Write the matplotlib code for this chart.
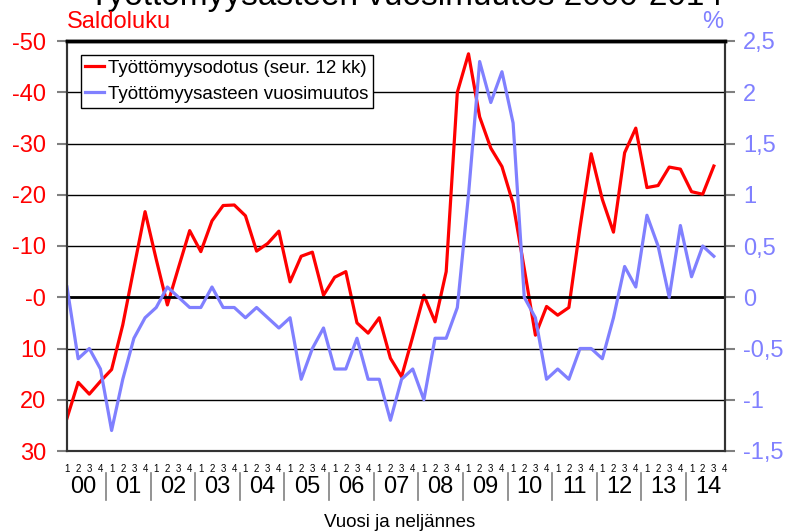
import matplotlib
matplotlib.use("Agg")
import matplotlib.pyplot as plt

plt.rcParams['font.family'] = ['Liberation Sans', 'DejaVu Sans']

# quarterly data 2000Q1 .. 2014Q3
years = ['00', '01', '02', '03', '04', '05', '06', '07', '08', '09',
         '10', '11', '12', '13', '14']
quarter_labels = ['1', '2', '3', '4']

# unemployment expectation, balance figure (left axis, inverted)
expectation = [23.6, 16.6, 18.9, 16.4, 14.1, 5.4, -5.7, -16.7, -7.4, 1.5,
               -5.8, -13.0, -8.9, -14.9, -17.9, -18.0, -15.9, -9.0, -10.5, -12.9,
               -3.0, -8.0, -8.8, -0.4, -3.9, -5.0, 5.0, 7.0, 4.0, 11.9,
               15.5, 7.7, -0.4, 4.8, -5.0, -40.0, -47.5, -35.2, -29.1, -25.5,
               -18.3, -5.6, 7.4, 1.8, 3.5, 2.0, -13.6, -28.0, -19.1, -12.7,
               -28.2, -33.0, -21.4, -21.8, -25.4, -25.0, -20.6, -20.1, -25.6]

# annual change of unemployment rate, % points (right axis)
rate_change = [0.1, -0.6, -0.5, -0.7, -1.3, -0.8, -0.4, -0.2, -0.1, 0.1,
               0.0, -0.1, -0.1, 0.1, -0.1, -0.1, -0.2, -0.1, -0.2, -0.3,
               -0.2, -0.8, -0.5, -0.3, -0.7, -0.7, -0.4, -0.8, -0.8, -1.2,
               -0.8, -0.7, -1.0, -0.4, -0.4, -0.1, 1.0, 2.3, 1.9, 2.2,
               1.7, 0.0, -0.2, -0.8, -0.7, -0.8, -0.5, -0.5, -0.6, -0.2,
               0.3, 0.1, 0.8, 0.5, 0.0, 0.7, 0.2, 0.5, 0.4]

left_ticks = [-50, -40, -30, -20, -10, 0, 10, 20, 30]
left_labels = ['-50', '-40', '-30', '-20', '-10', '-0', '10', '20', '30']
right_ticks = [2.5, 2, 1.5, 1, 0.5, 0, -0.5, -1, -1.5]
right_labels = ['2,5', '2', '1,5', '1', '0,5', '0', '-0,5', '-1', '-1,5']

RED = '#FF0000'
BLUE = '#8080FF'

fig = plt.figure(figsize=(7.86, 5.31), dpi=100)
ax = fig.add_axes([67 / 786, 1 - 451 / 531, 658 / 786, 410 / 531])
ax2 = ax.twinx()

n_q = len(years) * 4
x = list(range(len(expectation)))

l1, = ax.plot(x, expectation, color=RED, lw=2.3, label='Työttömyysodotus (seur. 12 kk)')
l2, = ax2.plot(x, rate_change, color=BLUE, lw=2.3, label='Työttömyysasteen vuosimuutos')

ax.set_xlim(0, n_q - 1)
ax.set_ylim(30, -50)
ax2.set_ylim(-1.5, 2.5)

ax.set_yticks(left_ticks)
ax.set_yticklabels(left_labels, color=RED, fontsize=17)
ax2.set_yticks(right_ticks)
ax2.set_yticklabels(right_labels, color=BLUE, fontsize=17)

ax.tick_params(axis='y', length=7, width=1.5, color='#808080', pad=8)
ax2.tick_params(axis='y', length=7, width=1.5, color='#808080', pad=6)

ax.set_xticks(range(n_q))
ax.set_xticklabels(quarter_labels * len(years), fontsize=7)
ax.tick_params(axis='x', length=0, pad=9)

ax.grid(axis='y', color='black', lw=1)
ax.axhline(0, color='black', lw=2)
ax.set_axisbelow(True)

for sp in ['left', 'right', 'bottom']:
    ax.spines[sp].set_color('#333333')
    ax.spines[sp].set_linewidth(1.5)
    ax2.spines[sp].set_color('#333333')
    ax2.spines[sp].set_linewidth(1.5)
ax.spines['top'].set_linewidth(2.5)
ax2.spines['top'].set_linewidth(2.5)

# year labels and separators under the quarters
xt = ax.get_xaxis_transform()
for k, yr in enumerate(years):
    ax.text(4 * k + 1.5, -0.0866, yr, transform=xt, ha='center', va='center', fontsize=17)
    if k < len(years) - 1:
        ax.plot([4 * k + 3.5, 4 * k + 3.5], [-0.0537, -0.1195], transform=xt,
                color='#808080', lw=1.2, clip_on=False)

ax2.legend(handles=[l1, l2], loc='upper left', bbox_to_anchor=(0.0208, 0.9666),
           borderaxespad=0, fontsize=13.5, frameon=True, fancybox=False,
           edgecolor='black', framealpha=1, handlelength=1.0, handletextpad=0.2,
           borderpad=0.25, labelspacing=0.5)
ax2.get_legend().get_frame().set_linewidth(1)

fig.text(406 / 786, 1 - 4.5 / 531, 'Työttömyysasteen vuosimuutos 2000-2014',
         ha='center', va='baseline', fontsize=24)
fig.text(67 / 786, 1 - 28 / 531, 'Saldoluku', color=RED, fontsize=17, ha='left', va='baseline')
fig.text(723 / 786, 1 - 28 / 531, '%', color=BLUE, fontsize=17, ha='right', va='baseline')
fig.text(400 / 786, 1 - 527 / 531, 'Vuosi ja neljännes', ha='center', va='baseline', fontsize=13.5)

fig.savefig('out.png', dpi=100)
